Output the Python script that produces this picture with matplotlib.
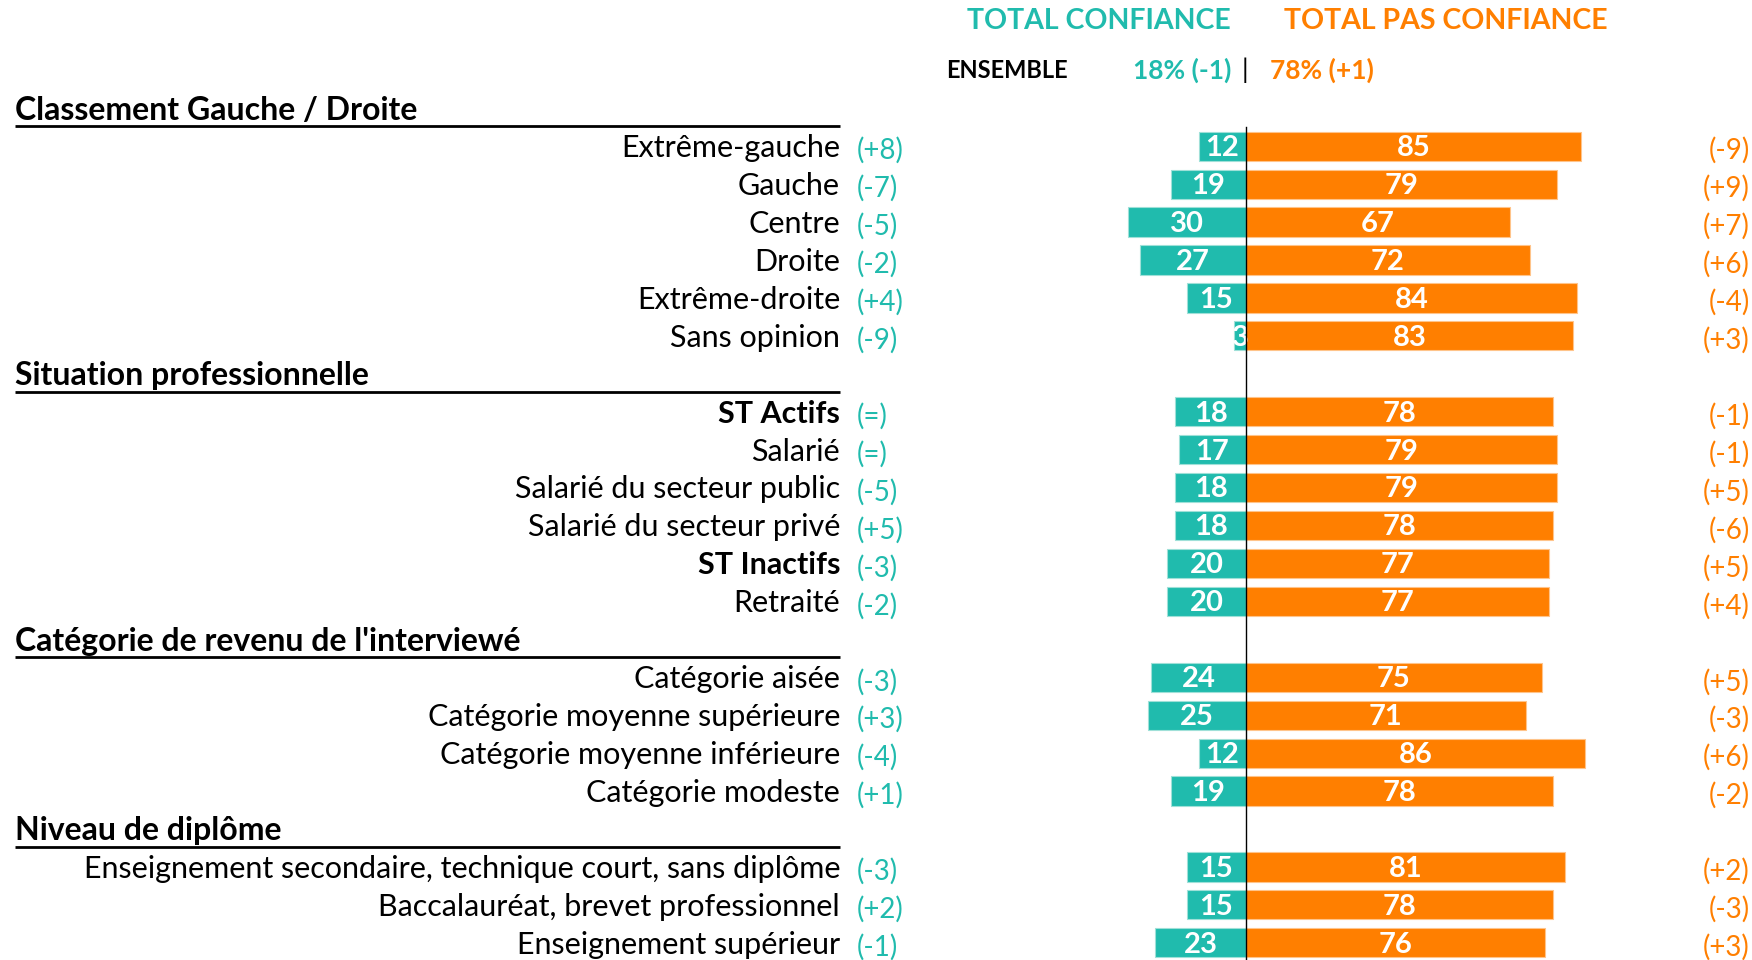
import matplotlib.pyplot as plt
from matplotlib.transforms import blended_transform_factory

plt.rcParams['font.family'] = ['Lato', 'DejaVu Sans']

TEAL = '#20BBAD'
ORANGE = '#FF7F00'

# sections of the chart
sections = [
    'Classement Gauche / Droite',
    'Situation professionnelle',
    "Catégorie de revenu de l'interviewé",
    'Niveau de diplôme',
]

labels = [
    ['Extrême-gauche', 'Gauche', 'Centre', 'Droite', 'Extrême-droite', 'Sans opinion'],
    ['ST Actifs', 'Salarié', 'Salarié du secteur public', 'Salarié du secteur privé',
     'ST Inactifs', 'Retraité'],
    ['Catégorie aisée', 'Catégorie moyenne supérieure', 'Catégorie moyenne inférieure',
     'Catégorie modeste'],
    ['Enseignement secondaire, technique court, sans diplôme',
     'Baccalauréat, brevet professionnel', 'Enseignement supérieur'],
]
bold_labels = ['ST Actifs', 'ST Inactifs']

confiance = [
    [12, 19, 30, 27, 15, 3],
    [18, 17, 18, 18, 20, 20],
    [24, 25, 12, 19],
    [15, 15, 23],
]
pas_confiance = [
    [85, 79, 67, 72, 84, 83],
    [78, 79, 79, 78, 77, 77],
    [75, 71, 86, 78],
    [81, 78, 76],
]
evol_confiance = [
    ['(+8)', '(-7)', '(-5)', '(-2)', '(+4)', '(-9)'],
    ['(=)', '(=)', '(-5)', '(+5)', '(-3)', '(-2)'],
    ['(-3)', '(+3)', '(-4)', '(+1)'],
    ['(-3)', '(+2)', '(-1)'],
]
evol_pas_confiance = [
    ['(-9)', '(+9)', '(+7)', '(+6)', '(-4)', '(+3)'],
    ['(-1)', '(-1)', '(+5)', '(-6)', '(+5)', '(+4)'],
    ['(+5)', '(-3)', '(+6)', '(-2)'],
    ['(+2)', '(-3)', '(+3)'],
]

ensemble_conf = '18% (-1)'
ensemble_pas = '78% (+1)'

W, H = 1752, 960
fig = plt.figure(figsize=(W / 100, H / 100), dpi=100)
ax = fig.add_axes([0, 0, 1, 1])

# x: percent units, zero at 1246 px, 3.94 px per point
zero_px = 1246
ppu = 3.94
ax.set_xlim(-zero_px / ppu, (W - zero_px) / ppu)
# y: slot units, slot 0 at 108 px from top, 37.93 px per slot
slot0 = 108.3
step = 37.93
ax.set_ylim((H - slot0) / step, -slot0 / step)
ax.axis('off')

tx = blended_transform_factory(fig.transFigure, ax.transData)

bar_h = 0.77
fs = 22
slot = 0
first_row = None
for s, title in enumerate(sections):
    ax.text(15 / W, slot + 0.05, title, transform=tx, ha='left', va='center',
            fontsize=23, fontweight='bold', color='black')
    ax.plot([15 / W, 840 / W], [slot + 0.47, slot + 0.47], transform=tx,
            color='black', lw=2, solid_capstyle='butt')
    slot += 1
    for i, lab in enumerate(labels[s]):
        y = slot
        if first_row is None:
            first_row = y
        c = confiance[s][i]
        p = pas_confiance[s][i]
        ax.barh(y, -c, height=bar_h, color=TEAL, edgecolor='#9fe0d8', lw=0.8)
        ax.barh(y, p, height=bar_h, color=ORANGE, edgecolor='#ffc48a', lw=0.8)
        ax.text(-c / 2, y + 0.05, str(c), ha='center', va='center', color='white',
                fontsize=21, fontweight='bold')
        ax.text(p / 2, y + 0.05, str(p), ha='center', va='center', color='white',
                fontsize=21, fontweight='bold')
        ax.text(840 / W, y + 0.05, lab, transform=tx, ha='right', va='center', fontsize=fs,
                color='black', fontweight='bold' if lab in bold_labels else 'normal')
        ax.text(857 / W, y + 0.12, evol_confiance[s][i], transform=tx, ha='left',
                va='center', fontsize=20, color=TEAL)
        ax.text(1750 / W, y + 0.12, evol_pas_confiance[s][i], transform=tx, ha='right',
                va='center', fontsize=20, color=ORANGE)
        slot += 1

ax.plot([0, 0], [first_row - 0.5, slot + 1], color='black', lw=1, zorder=5)

# header
fig.text(1099 / W, 1 - 21 / H, 'TOTAL CONFIANCE', ha='center', va='center',
         fontsize=20.5, fontweight='bold', color=TEAL)
fig.text(1446 / W, 1 - 21 / H, 'TOTAL PAS CONFIANCE', ha='center', va='center',
         fontsize=20.5, fontweight='bold', color=ORANGE)
fig.text(1007 / W, 1 - 70 / H, 'ENSEMBLE', ha='center', va='center',
         fontsize=17, fontweight='bold', color='black')
fig.text(1182 / W, 1 - 70 / H, ensemble_conf, ha='center', va='center',
         fontsize=19, fontweight='bold', color=TEAL)
fig.text(1245 / W, 1 - 70 / H, '|', ha='center', va='center',
         fontsize=19, color='black')
fig.text(1322 / W, 1 - 70 / H, ensemble_pas, ha='center', va='center',
         fontsize=19, fontweight='bold', color=ORANGE)

fig.savefig('out.png', dpi=100)
